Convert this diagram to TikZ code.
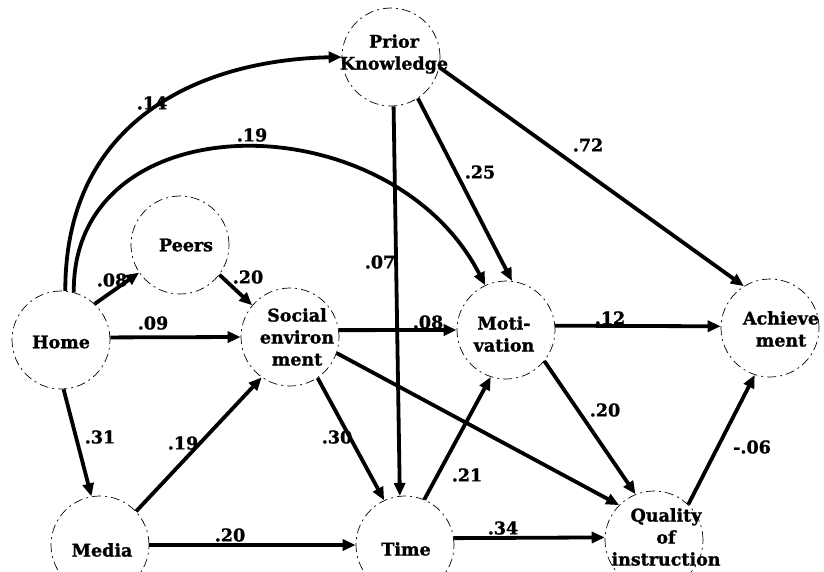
\documentclass[tikz,border=0pt]{standalone}
\usepackage{fontspec}
\setmainfont{DejaVu Serif}[BoldFeatures={FakeBold=1.3}]
\usetikzlibrary{arrows.meta}
\begin{document}
\begin{tikzpicture}[x=1pt,y=-1pt,
  circ/.style={circle,draw,line width=0.7pt,dash pattern=on 9pt off 4pt on 2pt off 4pt,minimum size=98pt,inner sep=0pt},
  txt/.style={font=\bfseries\fontsize{17.5}{22}\selectfont,align=center,inner sep=0pt},
  lbl/.style={font=\bfseries\fontsize{17.5}{22}\selectfont,inner sep=0pt},
  arr/.style={line width=3.8pt,-{Triangle[length=13pt,width=11pt]}}]
\useasboundingbox (0,0) rectangle (824,571);
% circles
\node[circ] (prior) at (391,57) {};
\node[circ] (peers) at (180,245) {};
\node[circ] (home) at (61,340) {};
\node[circ] (social) at (290,337) {};
\node[circ] (mot) at (506,330) {};
\node[circ] (ach) at (770,328) {};
\node[circ] (media) at (100,545) {};
\node[circ] (time) at (405,545) {};
\node[circ] (qual) at (654,540) {};
% texts
\node[txt] (priorT) at (394,54) {Prior\\Knowledge};
\node[txt] (peersT) at (186,245) {Peers};
\node[txt] (homeT) at (61,342) {Home};
\node[txt] (socialT) at (297,337) {Social\\environ\\ment};
\node[txt] (motT) at (504,334) {Moti-\\vation};
\node[txt] (achT) at (781,329) {Achieve\\ment};
\node[txt] (mediaT) at (102,550) {Media};
\node[txt] (timeT) at (406,549) {Time};
\node[txt] (qualT) at (666,537) {Quality\\of\\instruction};
% connectors
\draw[arr] (home.85) .. controls (65,120) and (200,60) .. (prior.180);
\draw[arr] (home.75) .. controls (72,100) and (390,100) .. (mot.115);
\draw[arr] (home.47) -- (peers.214);
\draw[arr] (peers.-37) -- (social.140);
\draw[arr] (home.3) -- (social.180);
\draw[arr] (home.-87) -- (media.100);
\draw[arr] (media.43) -- (social.-125);
\draw[arr] (media.0) -- (time.180);
\draw[arr] (social.-56) -- (time.115);
\draw[arr] (social.-19) -- (qual.135);
\draw[arr] (social.8) -- (mot.180);
\draw[arr] (prior.-87) -- (time.96);
\draw[arr] (prior.-57) -- (mot.83);
\draw[arr] (prior.-12) -- (ach.122);
\draw[arr] (mot.5) -- (ach.178);
\draw[arr] (mot.-39) -- (qual.112);
\draw[arr] (time.67) -- (mot.-108);
\draw[arr] (time.8) -- (qual.177);
\draw[arr] (qual.46) -- (ach.-108);
% labels
\node[lbl] (l14) at (152,103) {.14};
\node[lbl] (l19a) at (252,135) {.19};
\node[lbl] (l08a) at (112,280) {.08};
\node[lbl] (l20a) at (248,277) {.20};
\node[lbl] (l07) at (380,262) {.07};
\node[lbl] (l25) at (480,172) {.25};
\node[lbl] (l72) at (588,145) {.72};
\node[lbl] (l09) at (153,323) {.09};
\node[lbl] (l08b) at (428,322) {.08};
\node[lbl] (l12) at (610,318) {.12};
\node[lbl] (l31) at (100,437) {.31};
\node[lbl] (l19b) at (183,443) {.19};
\node[lbl] (l30) at (337,437) {.30};
\node[lbl] (l20b) at (605,410) {.20};
\node[lbl] (l06) at (752,447) {-.06};
\node[lbl] (l21) at (467,475) {.21};
\node[lbl] (l20c) at (230,535) {.20};
\node[lbl] (l34) at (503,528) {.34};
\end{tikzpicture}
\end{document}
